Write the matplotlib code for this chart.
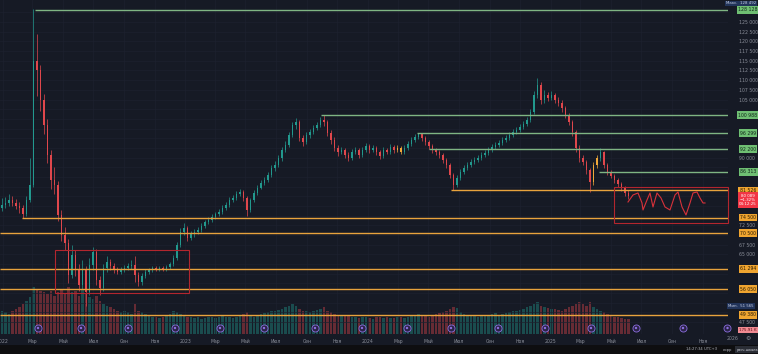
import matplotlib
matplotlib.use('Agg')
import matplotlib.pyplot as plt
import matplotlib.dates as mdates
import matplotlib.transforms as mtransforms
from matplotlib.patches import Rectangle
import pandas as pd

W, H = 758, 354

# ---------------- data (weekly candles, thousands) ----------------
week_start = '2021-12-27'
first_open = 77.0
closes = [77.8, 78.3, 79.0, 78.3, 77.5, 77.0, 75.4, 79.0, 83.0,
          115.0, 112.6, 104.9, 98.4, 90.7, 84.2, 82.9, 75.2,
          70.0, 68.0, 59.7, 64.8, 61.0, 57.1, 61.0, 55.3, 62.3, 65.6, 58.4, 56.3, 61.5, 63.0,
          62.0, 61.0, 60.5, 61.0, 61.5, 62.0, 62.3, 59.7, 57.9, 59.4, 60.5, 61.0, 61.5, 61.2, 61.5, 61.2, 61.7, 62.5, 64.0, 67.4,
          70.8, 71.8, 69.2, 70.3, 70.8, 71.3, 72.3, 73.4, 73.9, 74.7, 75.4, 75.9, 77.0, 77.8, 79.0, 79.6, 80.6, 81.1, 79.6, 76.5,
          79.0, 80.9, 82.2, 83.5, 84.2, 85.5, 87.3, 88.1, 89.9, 92.0,
          93.3, 95.8, 98.4, 99.2, 95.1, 94.0, 95.8, 96.6, 97.6, 98.4, 99.7, 99.2, 96.4, 94.5, 92.5, 91.4, 92.0, 90.7, 89.9, 91.4,
          92.0, 90.7, 92.0, 93.0, 92.0, 92.5, 91.4, 90.4, 92.0, 91.4, 92.7, 92.0, 92.5, 91.4, 92.5, 93.5, 94.5, 95.3, 96.1, 95.1,
          94.0, 93.0, 92.0, 91.4, 90.7, 89.4, 88.1, 85.5, 83.0, 84.7,
          86.3, 87.3, 88.1, 88.9, 89.4, 89.9, 90.7, 91.2, 92.0, 92.7, 93.3, 93.8, 94.5, 95.1, 95.8, 96.6, 97.1, 97.9, 98.7, 99.7,
          101.8, 106.2, 108.8, 104.9, 106.2, 105.4, 106.2, 104.9, 104.1, 102.8,
          101.0, 99.2, 96.6, 92.5, 89.9, 88.9, 86.8, 83.7, 88.1, 89.9, 91.4, 88.1, 86.3, 85.3, 84.2, 83.2, 82.2, 80.9, 80.1]
highs = [79.5, 79.8, 80.5, 80.0, 79.2, 78.6, 77.8, 80.2, 90.0,
         128.5, 122.0, 114.0, 106.5, 100.0, 92.0, 87.5, 84.0,
         76.5, 72.0, 69.0, 67.5, 66.0, 62.5, 63.5, 62.0, 64.0, 67.0, 66.5, 59.5, 62.5, 64.5,
         63.8, 62.8, 61.8, 61.8, 62.2, 62.8, 63.5, 64.5, 60.5, 60.2, 61.2, 61.6, 62.0, 62.0, 62.0, 62.0, 62.3, 63.0, 64.8, 68.2,
         71.8, 73.0, 72.4, 71.0, 71.5, 72.0, 73.0, 74.0, 74.6, 75.4, 76.0, 76.6, 77.7, 78.5, 79.8, 80.4, 81.4, 82.0, 81.6, 80.0,
         79.6, 81.5, 82.8, 84.2, 85.0, 86.2, 88.0, 89.0, 90.6, 92.8,
         94.2, 96.6, 99.2, 100.2, 99.6, 95.8, 96.5, 97.4, 98.3, 99.2, 100.5, 101.0, 99.6, 97.0, 95.2, 93.2, 92.8, 92.6, 91.4, 92.2,
         92.8, 92.6, 92.8, 93.8, 93.6, 93.3, 93.0, 92.0, 92.7, 92.6, 93.4, 93.3, 93.2, 93.0, 93.2, 94.2, 95.2, 96.0, 96.3, 96.2,
         95.6, 94.5, 93.6, 92.6, 91.9, 91.2, 89.9, 88.6, 86.0, 85.4,
         87.0, 88.0, 88.8, 89.6, 90.1, 90.6, 91.4, 91.9, 92.7, 93.4, 94.0, 94.5, 95.2, 95.8, 96.5, 97.3, 97.9, 98.6, 99.4, 100.5,
         102.6, 107.2, 110.6, 109.4, 107.4, 107.0, 107.3, 106.8, 105.6, 104.8,
         103.4, 101.6, 99.8, 97.2, 93.2, 90.6, 89.5, 87.4, 88.8, 90.6, 92.4, 91.8, 88.7, 86.9, 85.8, 84.8, 83.8, 82.7, 81.6]
lows = [76.2, 77.0, 77.6, 77.4, 76.6, 75.8, 74.5, 75.0, 78.5,
        82.5, 106.0, 102.0, 96.0, 88.5, 82.0, 80.5, 73.5,
        68.5, 66.0, 57.5, 58.8, 59.5, 55.5, 56.0, 51.6, 54.5, 61.0, 57.0, 54.5, 55.5, 60.5,
        61.0, 60.2, 59.8, 60.0, 60.5, 61.0, 61.2, 57.8, 56.8, 57.2, 58.8, 60.0, 60.5, 60.6, 60.7, 60.6, 60.8, 61.2, 62.0, 63.6,
        67.0, 70.0, 68.4, 68.6, 69.6, 70.2, 70.8, 71.8, 72.8, 73.4, 74.2, 74.8, 75.4, 76.5, 77.3, 78.5, 79.0, 80.0, 78.8, 75.0,
        76.0, 78.5, 80.4, 81.8, 83.0, 83.6, 85.0, 86.6, 87.6, 89.2,
        91.4, 92.8, 95.2, 97.4, 94.2, 93.0, 93.4, 95.0, 96.0, 97.0, 97.8, 98.2, 95.6, 93.6, 91.6, 90.4, 90.8, 89.8, 89.0, 89.4,
        90.8, 90.0, 90.2, 91.4, 91.2, 91.4, 90.6, 89.6, 90.0, 90.8, 91.0, 91.2, 91.5, 90.8, 91.0, 92.0, 93.0, 94.0, 94.8, 94.4,
        93.3, 92.3, 91.3, 90.6, 89.9, 88.6, 87.2, 84.6, 81.6, 82.4,
        84.2, 85.8, 86.8, 87.6, 88.3, 88.8, 89.3, 90.1, 90.6, 91.4, 92.1, 92.7, 93.2, 93.9, 94.5, 95.2, 96.0, 96.5, 97.3, 98.1,
        99.1, 101.2, 105.5, 103.8, 104.2, 104.5, 104.8, 104.0, 103.2, 101.9,
        100.1, 98.3, 95.6, 91.4, 88.8, 88.0, 85.8, 81.0, 83.0, 87.4, 89.2, 87.3, 85.5, 84.6, 83.5, 82.5, 81.4, 80.1, 79.3]
volumes = [700, 650, 600, 700, 750, 800, 900, 1000, 1100,
           1400, 1350, 1300, 1250, 1200, 1300, 1150, 1250,
           1350, 1200, 1400, 1250, 1300, 1150, 1350, 1200, 1100, 1050, 1150, 1000, 900, 850,
           800, 750, 700, 650, 700, 650, 600, 900, 700, 650, 600, 550, 500, 520, 480, 500, 550, 600, 700, 650,
           600, 550, 500, 520, 480, 500, 450, 470, 500, 520, 480, 500, 550, 520, 500, 480, 520, 550, 600, 650,
           550, 520, 560, 600, 620, 650, 700, 680, 720, 750,
           800, 850, 900, 850, 750, 700, 680, 650, 700, 720, 750, 800, 700, 650, 600, 580, 550, 560, 540, 520,
           500, 480, 520, 500, 480, 460, 500, 520, 480, 500, 470, 490, 510, 500, 480, 520, 540, 560, 600, 580,
           550, 520, 560, 600, 620, 650, 700, 750, 800, 780,
           650, 600, 580, 560, 540, 520, 540, 560, 580, 600, 620, 580, 600, 620, 650, 680, 700, 720, 750, 800,
           850, 900, 950, 850, 800, 780, 760, 740, 720, 700,
           750, 800, 850, 900, 950, 900, 850, 950, 800, 750, 700, 650, 600, 550, 520, 500, 480, 460, 450]
highlight_weeks = [113, 114, 169, 170]

# horizontal levels
green_levels = [128128, 100988, 96299, 92200, 86313]
green_starts = ['2022-03-06', '2023-09-30', '2024-04-09', '2024-05-03', '2025-04-08']
orange_levels = [81526, 74500, 70500, 61294, 56050, 49380]
orange_starts = ['2024-06-16', '2022-02-08', '2021-12-01', '2021-12-01', '2021-12-01', '2021-12-01']

# rectangles (start, end, low, high)
box_starts = ['2022-04-15', '2025-05-07']
box_ends = ['2023-01-08', '2025-12-25']
box_lows = [55030, 73110]
box_highs = [66136, 82409]

# hand-drawn squiggle
squiggle_dates = ['2025-06-04', '2025-06-14', '2025-06-24', '2025-07-02', '2025-07-04', '2025-07-12',
                  '2025-07-18', '2025-07-24', '2025-08-01', '2025-08-09', '2025-08-17', '2025-08-27',
                  '2025-09-06', '2025-09-12', '2025-09-20', '2025-09-28', '2025-10-06', '2025-10-12',
                  '2025-10-20', '2025-10-26', '2025-11-01', '2025-11-05']
squiggle_prices = [78534, 80343, 80859, 78276, 76468, 79051, 80859, 77242, 80859, 79567, 77242, 76468,
                   80343, 81118, 77242, 75175, 78276, 80859, 81118, 79567, 78276, 78276]

event_dates = ['2022-03-12', '2022-06-06', '2022-09-08', '2022-12-11', '2023-03-11', '2023-06-07',
               '2023-09-17', '2023-12-20', '2024-03-19', '2024-06-15', '2024-09-17', '2024-12-20',
               '2025-03-22', '2025-06-20', '2025-09-22', '2025-12-20']

time_tick_dates = ['2022-01-01', '2022-03-01', '2022-05-01', '2022-07-01', '2022-09-01', '2022-11-01',
                   '2023-01-01', '2023-03-01', '2023-05-01', '2023-07-01', '2023-09-01', '2023-11-01',
                   '2024-01-01', '2024-03-01', '2024-05-01', '2024-07-01', '2024-09-01', '2024-11-01',
                   '2025-01-01', '2025-03-01', '2025-05-01', '2025-07-01', '2025-09-01', '2025-11-01']
time_tick_labels = ['2022', 'Мар', 'Май', 'Июл', 'Сен', 'Ноя',
                    '2023', 'Мар', 'Май', 'Июл', 'Сен', 'Ноя',
                    '2024', 'Мар', 'Май', 'Июл', 'Сен', 'Ноя',
                    '2025', 'Мар', 'Май', 'Июл', 'Сен', 'Ноя']
price_ticks = list(range(47500, 130000, 2500))

max_value = 128492
min_value = 51565
last_price = 80089
last_change = '−1.32%'
countdown = '04:12:25'
volume_label = '175.91 K'

# ---------------- style ----------------
BG = '#161a25'
GRID = '#1d212e'
UP = '#22998e'
DN = '#e0474c'
GREEN_LINE = '#7fb583'
ORANGE_LINE = '#e8a33d'
TXT = '#8b8f9a'
FS = 3.3

def fx(px):
    return px / W

def fy(py):
    return 1 - py / H

fig = plt.figure(figsize=(W / 100, H / 100), dpi=100)
fig.patch.set_facecolor(BG)

pane_bottom_px = 334
ax = fig.add_axes([0, 1 - pane_bottom_px / H, 728 / W, pane_bottom_px / H])
ax2 = ax.twinx()
ax.set_zorder(2)
ax.patch.set_visible(False)
ax2.set_zorder(1)
ax2.patch.set_visible(False)

x0 = mdates.date2num(pd.Timestamp('2021-12-26'))
x1 = mdates.date2num(pd.Timestamp('2025-12-21'))
ax.set_xlim(x0, x1)
ax.set_ylim(44428, 130711)
ax2.set_xlim(x0, x1)
ax2.set_ylim(0, 10000)
ax2.axis('off')

for s in ax.spines.values():
    s.set_visible(False)

# price axis labels (hidden where a level label sits, as the platform does)
label_prices = green_levels + orange_levels + [min_value, last_price - 2000, last_price, last_price + 1000]
ppx = (130711 - 44428) / pane_bottom_px
tick_texts = []
for v in price_ticks:
    near = any(abs(v - lp) < 6.5 * ppx for lp in label_prices) or v > 126000
    tick_texts.append('' if near else f'{v:,}'.replace(',', ' '))
ax.set_yticks(price_ticks)
ax.set_yticklabels(tick_texts)
ax.yaxis.tick_right()
ax.tick_params(axis='y', length=0, labelsize=FS, labelcolor=TXT, pad=8)
ax.set_xticks(mdates.date2num(pd.to_datetime(time_tick_dates)))
ax.set_xticklabels(time_tick_labels)
ax.tick_params(axis='x', length=0, labelsize=FS, labelcolor=TXT, pad=3.5)
ax.grid(True, color=GRID, lw=0.5)
ax.set_axisbelow(True)

# candles
dates = pd.date_range(week_start, periods=len(closes), freq='7D') + pd.Timedelta(days=3)
xs = mdates.date2num(dates)
opens = [first_open] + closes[:-1]
cols = []
for i, (o, c) in enumerate(zip(opens, closes)):
    if i in highlight_weeks:
        cols.append('#f0a83a')
    else:
        cols.append(UP if c >= o else DN)
ax.vlines(xs, [l * 1000 for l in lows], [h * 1000 for h in highs], colors=cols, lw=0.5, zorder=3)
body_bottom = [min(o, c) * 1000 for o, c in zip(opens, closes)]
body_h = [max(abs(c - o) * 1000, 150) for o, c in zip(opens, closes)]
ax.bar(xs, body_h, bottom=body_bottom, width=2.6, color=cols, lw=0, zorder=3)

# volume
vcols = [UP if c >= o else DN for o, c in zip(opens, closes)]
ax2.bar(xs, volumes, width=5.0, color=vcols, alpha=0.4, lw=0)

# levels
for lvl, st in zip(green_levels, green_starts):
    ax.hlines(lvl, mdates.date2num(pd.Timestamp(st)), x1, color=GREEN_LINE, lw=1.0, zorder=4)
for lvl, st in zip(orange_levels, orange_starts):
    ax.hlines(lvl, max(mdates.date2num(pd.Timestamp(st)), x0), x1, color=ORANGE_LINE, lw=1.0, zorder=4)

# boxes
for s, e, lo, hi in zip(box_starts, box_ends, box_lows, box_highs):
    xa = mdates.date2num(pd.Timestamp(s))
    xb = min(mdates.date2num(pd.Timestamp(e)), x1)
    ax.add_patch(Rectangle((xa, lo), xb - xa, hi - lo, fill=False, ec='#b3262e', lw=0.8, zorder=5,
                           clip_on=False))

# squiggle
ax.plot(mdates.date2num(pd.to_datetime(squiggle_dates)), squiggle_prices, color='#d8323a', lw=0.8, zorder=6)

# event icons
tr = mtransforms.blended_transform_factory(ax.transData, ax.transAxes)
ex = mdates.date2num(pd.to_datetime(event_dates))
iy = [(pane_bottom_px - 328) / pane_bottom_px] * len(ex)
ax.scatter(ex, iy, s=26, marker='o', fc='#2a2346', ec='#8c6ee0', lw=0.6, transform=tr, zorder=7, clip_on=False)
ax.scatter(ex, iy, s=3, marker='o', fc='#8c6ee0', ec='none', transform=tr, zorder=8, clip_on=False)

# right-side labels
trl = mtransforms.blended_transform_factory(fig.transFigure, ax.transData)

def fmt(v):
    return f'{v:,}'.replace(',', ' ')

for lvl in green_levels:
    ax.text(fx(748), lvl, fmt(lvl), transform=trl, ha='center', va='center', fontsize=FS, color='#10261a',
            bbox=dict(boxstyle='square,pad=0.3', fc='#6fbf73', ec='none'), zorder=20, clip_on=False)
for lvl in orange_levels:
    ax.text(fx(748), lvl, fmt(lvl), transform=trl, ha='center', va='center', fontsize=FS, color='#2a1a00',
            bbox=dict(boxstyle='square,pad=0.3', fc='#f0a530', ec='none'), zorder=20, clip_on=False)

fig.text(fx(741), fy(3.5), 'Макс.  ' + fmt(max_value), ha='center', va='center', fontsize=2.8,
         color='#c9d1e6', bbox=dict(boxstyle='square,pad=0.25', fc='#22345a', ec='none'), zorder=21)
ax.text(fx(741), min_value, 'Мин.  ' + fmt(min_value), transform=trl, ha='center', va='center',
        fontsize=2.8, color='#c9d1e6', bbox=dict(boxstyle='square,pad=0.25', fc='#22345a', ec='none'),
        zorder=21, clip_on=False)
fig.text(fx(748), fy(200), fmt(last_price) + '\n' + last_change + '\n' + countdown, ha='center', va='center',
         fontsize=2.9, color='white', linespacing=1.1,
         bbox=dict(boxstyle='square,pad=0.35', fc='#f23645', ec='none'), zorder=22)
fig.text(fx(748), fy(330), volume_label, ha='center', va='center', fontsize=2.9, color='#5a0d14',
         bbox=dict(boxstyle='square,pad=0.3', fc='#f08a92', ec='none'), zorder=22)

# bottom
fig.text(fx(733), fy(339), '2026', ha='center', va='center', fontsize=FS, color=TXT)
fig.text(fx(748), fy(339), '⚙', ha='center', va='center', fontsize=FS + 1, color=TXT)
fig.patches.append(Rectangle((0, 0), 1, fy(345), transform=fig.transFigure, fc='#0e0e10', ec='none', zorder=0))
fig.text(fx(702), fy(349.5), '14:27:34 UTC+3', ha='center', va='center', fontsize=2.7, color='#b0b3bb')
fig.text(fx(727), fy(349.5), 'корр', ha='center', va='center', fontsize=2.7, color='#b0b3bb')
fig.text(fx(747), fy(349.5), 'расч.шкала', ha='center', va='center', fontsize=2.5, color='#d0d3da',
         bbox=dict(boxstyle='square,pad=0.4', fc='#2a2d35', ec='none'))

fig.savefig('out.png', dpi=100, facecolor=fig.get_facecolor())
